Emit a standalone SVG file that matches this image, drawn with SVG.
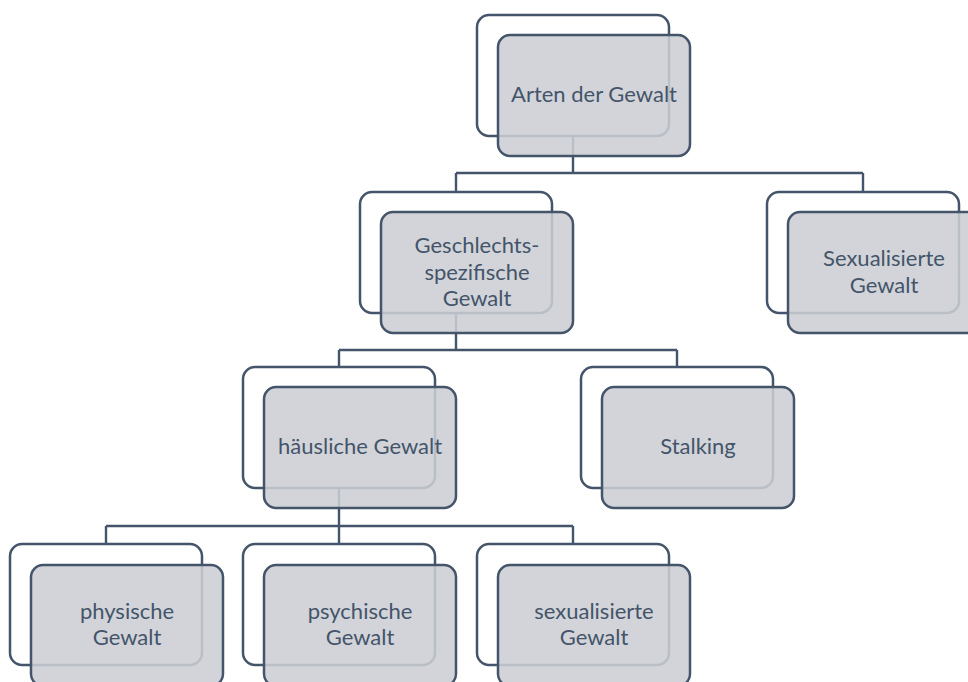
<svg xmlns="http://www.w3.org/2000/svg" width="968" height="682" viewBox="0 0 968 682">
<style>
.bg{fill:#ffffff}
.back{fill:#ffffff;stroke:#44546a;stroke-width:2.5}
.front{fill:#cbced3;fill-opacity:0.87;stroke:#44546a;stroke-width:2.5}
.conn{fill:none;stroke:#44546a;stroke-width:2.4}
.t{font-family:Lato,"Open Sans","Liberation Sans",sans-serif;font-size:22px;fill:#44546a;text-anchor:middle}
</style>
<rect class="bg" x="0" y="0" width="968" height="682"/>
<g id="connectors">
<path class="conn" d="M573,136 V173 M456,173 H863 M456,173 V192 M863,173 V192"/>
<path class="conn" d="M456,313 V350 M339,350 H677 M339,350 V367 M677,350 V367"/>
<path class="conn" d="M339,488 V526 M106,526 H573 M106,526 V544 M339,526 V544 M573,526 V544"/>
</g>
<g id="n-arten">
<rect class="back" x="477" y="15" width="192" height="121" rx="12"/>
<rect class="front" x="498" y="35" width="192" height="121" rx="12"/>
<text class="t" x="594" y="102">Arten der Gewalt</text>
</g>
<g id="n-geschlecht">
<rect class="back" x="360" y="192" width="192" height="121" rx="12"/>
<rect class="front" x="381" y="212" width="192" height="121" rx="12"/>
<text class="t" x="477" y="253">Geschlechts-</text>
<text class="t" x="477" y="279.5">spezifische</text>
<text class="t" x="477" y="306">Gewalt</text>
</g>
<g id="n-sexualisiert">
<rect class="back" x="767" y="192" width="192" height="121" rx="12"/>
<rect class="front" x="788" y="212" width="192" height="121" rx="12"/>
<text class="t" x="884" y="266">Sexualisierte</text>
<text class="t" x="884" y="292.5">Gewalt</text>
</g>
<g id="n-haeuslich">
<rect class="back" x="243" y="367" width="192" height="121" rx="12"/>
<rect class="front" x="264" y="387" width="192" height="121" rx="12"/>
<text class="t" x="360" y="454">häusliche Gewalt</text>
</g>
<g id="n-stalking">
<rect class="back" x="581" y="367" width="192" height="121" rx="12"/>
<rect class="front" x="602" y="387" width="192" height="121" rx="12"/>
<text class="t" x="698" y="454">Stalking</text>
</g>
<g id="n-physisch">
<rect class="back" x="10" y="544" width="192" height="121" rx="12"/>
<rect class="front" x="31" y="565" width="192" height="121" rx="12"/>
<text class="t" x="127" y="618.5">physische</text>
<text class="t" x="127" y="645">Gewalt</text>
</g>
<g id="n-psychisch">
<rect class="back" x="243" y="544" width="192" height="121" rx="12"/>
<rect class="front" x="264" y="565" width="192" height="121" rx="12"/>
<text class="t" x="360" y="618.5">psychische</text>
<text class="t" x="360" y="645">Gewalt</text>
</g>
<g id="n-sexualisiert2">
<rect class="back" x="477" y="544" width="192" height="121" rx="12"/>
<rect class="front" x="498" y="565" width="192" height="121" rx="12"/>
<text class="t" x="594" y="618.5">sexualisierte</text>
<text class="t" x="594" y="645">Gewalt</text>
</g>
</svg>
